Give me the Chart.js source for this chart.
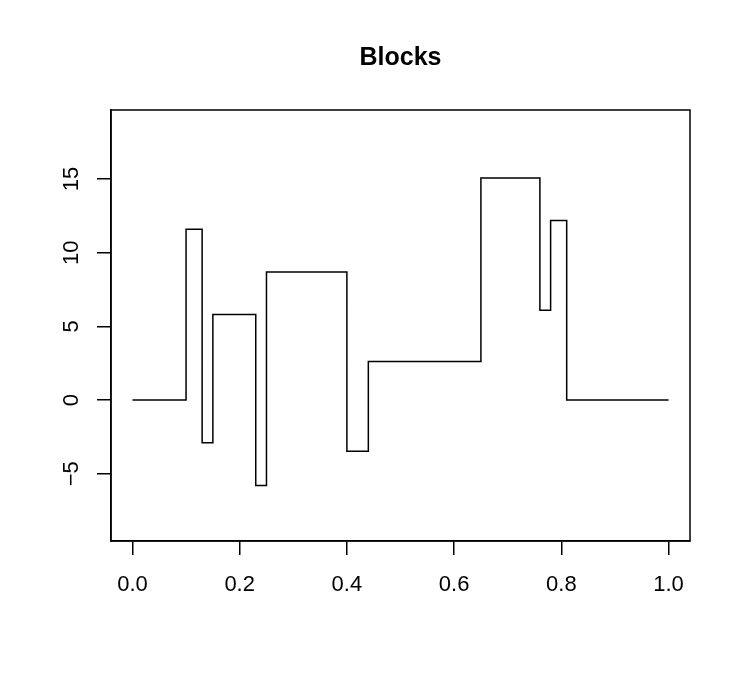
<!DOCTYPE html>
<html>
<head>
<meta charset="utf-8">
<script src="https://cdn.jsdelivr.net/npm/chart.js@4/dist/chart.umd.min.js"></script>
<style>
  html, body { margin: 0; padding: 0; background: #fff; }
  #c { display: block; }
</style>
</head>
<body>
<canvas id="c" width="747" height="680"></canvas>
<script>
// step positions and block heights (value held from each x to the next)
const stepX = [0, 0.1, 0.13, 0.15, 0.23, 0.25, 0.4, 0.44, 0.65, 0.76, 0.78, 0.81, 1.0];
const stepY = [0, 11.6, -2.9, 5.8, -5.8, 8.7, -3.48, 2.61, 15.08, 6.09, 12.18, 0, 0];
const xTicks = [0, 0.2, 0.4, 0.6, 0.8, 1.0];
const yTicks = [-5, 0, 5, 10, 15];

const FONT = 'Liberation Sans, Arial, Helvetica, sans-serif';

// R style box around the plot region
const boxPlugin = {
    id: 'box',
    afterDraw(chart) {
        const a = chart.chartArea;
        const ctx = chart.ctx;
        ctx.save();
        ctx.strokeStyle = '#000';
        ctx.lineWidth = 1.5;
        ctx.strokeRect(a.left, a.top, a.right - a.left, a.bottom - a.top);
        ctx.restore();
    }
};

const ctx = document.getElementById('c').getContext('2d');
new Chart(ctx, {
    type: 'line',
    data: {
        datasets: [{
            data: stepX.map((x, i) => ({ x: x, y: stepY[i] })),
            borderColor: '#000',
            borderWidth: 1.5,
            pointRadius: 0,
            fill: false,
            stepped: 'before'
        }]
    },
    options: {
        responsive: false,
        devicePixelRatio: 1,
        animation: false,
        layout: { padding: { left: 0, right: 57, top: 0, bottom: 0 } },
        plugins: {
            legend: { display: false },
            tooltip: { enabled: false },
            title: {
                display: true,
                fullSize: false,
                text: 'Blocks',
                color: '#000',
                font: { family: FONT, size: 25, weight: 'bold' },
                padding: { top: 43, bottom: 37 }
            }
        },
        scales: {
            x: {
                type: 'linear',
                min: -0.04,
                max: 1.04,
                afterBuildTicks: s => { s.ticks = xTicks.map(v => ({ value: v })); },
                afterFit: s => { s.height = 139; },
                grid: { drawOnChartArea: false, drawTicks: true, tickLength: 14, color: '#000', lineWidth: 1.5 },
                border: { display: true, color: '#000', width: 1.5 },
                ticks: {
                    color: '#000',
                    font: { family: FONT, size: 22 },
                    padding: 17,
                    maxRotation: 0,
                    autoSkip: false,
                    callback: v => v.toFixed(1)
                }
            },
            y: {
                type: 'linear',
                min: -9.57,
                max: 19.69,
                afterBuildTicks: s => { s.ticks = yTicks.map(v => ({ value: v })); },
                afterFit: s => { s.width = 111; },
                grid: { drawOnChartArea: false, drawTicks: true, tickLength: 14, color: '#000', lineWidth: 1.5 },
                border: { display: true, color: '#000', width: 1.5 },
                ticks: {
                    color: '#000',
                    font: { family: FONT, size: 22 },
                    padding: 13,
                    minRotation: 90,
                    maxRotation: 90,
                    crossAlign: 'center',
                    autoSkip: false,
                    callback: v => v < 0 ? '\u2212' + Math.abs(v) : String(v)
                }
            }
        }
    },
    plugins: [boxPlugin]
});
</script>
</body>
</html>
